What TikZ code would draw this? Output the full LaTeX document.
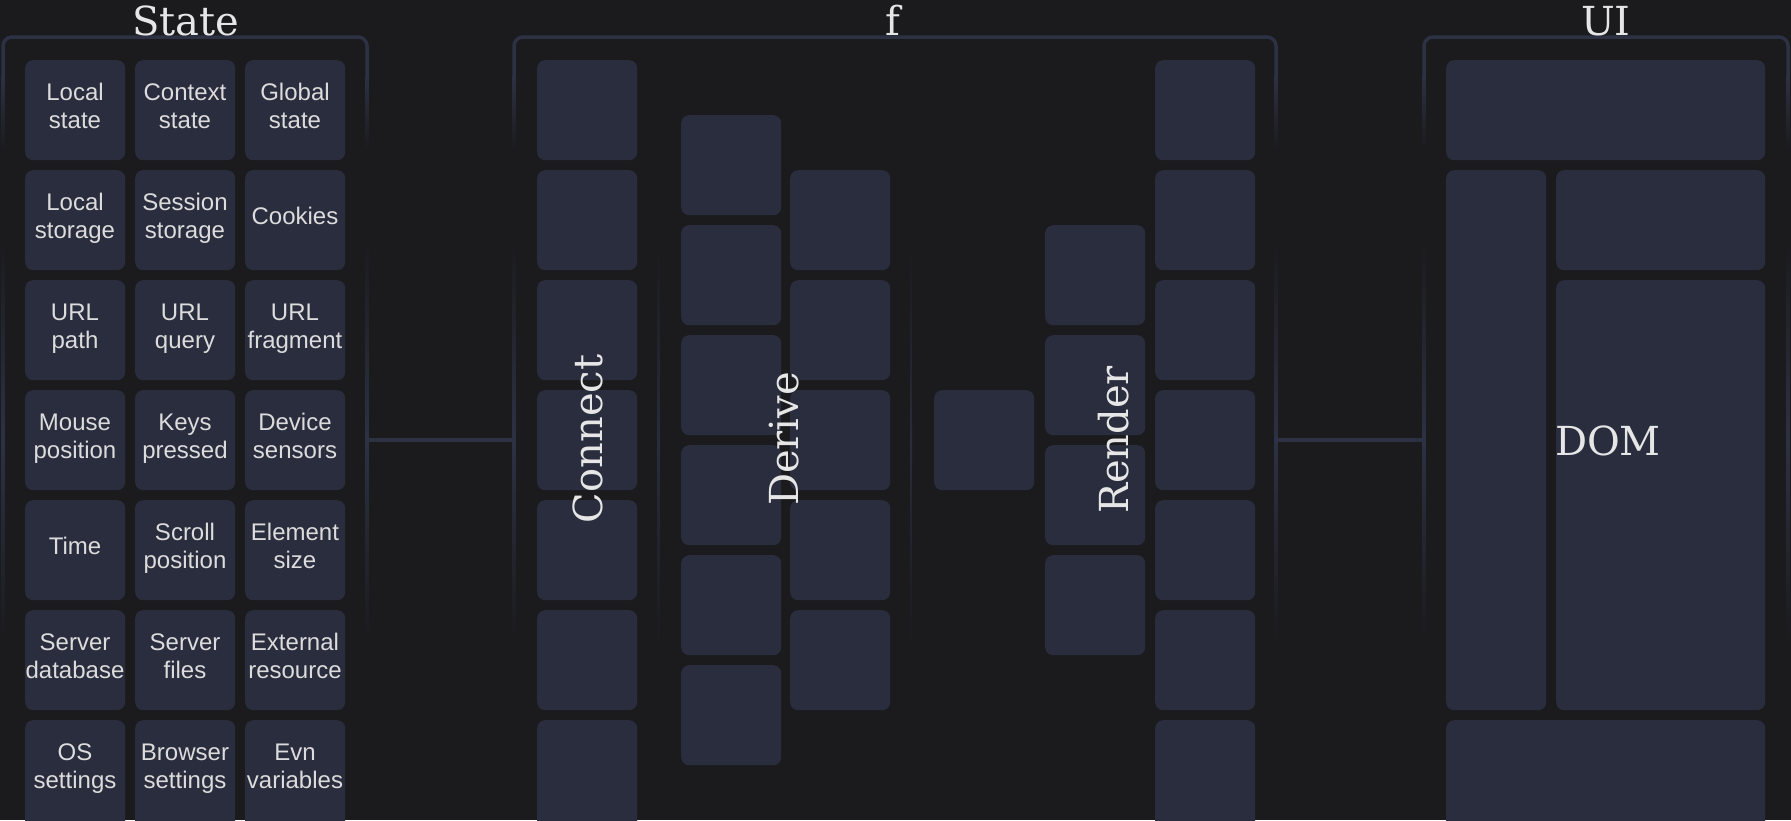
\documentclass[tikz,border=0pt]{standalone}
\usepackage{fontspec}
\setmainfont{Liberation Sans}
\newfontfamily\slabfnt{DejaVu Serif}
\definecolor{bg}{HTML}{1B1B1D}
\definecolor{tilec}{HTML}{2A2D3E}
\definecolor{bordc}{HTML}{2C3144}
\definecolor{sepc}{HTML}{282C3C}
\definecolor{txt}{HTML}{DCDCDC}
\definecolor{ttl}{HTML}{E6E6E6}
\newcommand\tilefnt{\fontsize{24pt}{28pt}\selectfont}
\newcommand\ttlfnt{\slabfnt\fontsize{40pt}{48pt}\selectfont}
\newcommand\tstrut{\rule[-10pt]{0pt}{28pt}}
% name, left, top, text
\newcommand\stile[4]{%
  \node[tile] (#1) at (#2,#3) {};
  \node[tiletext] (#1-t) at (#2+50,#3+50) {\tstrut#4\tstrut};}
% bottom row tile, cut by the page edge
\newcommand\btile[4]{%
  \node[tile, minimum height=130pt] (#1) at (#2,#3) {};
  \node[tiletext] (#1-t) at (#2+50,#3+50) {\tstrut#4\tstrut};}
\newcommand\grpframe[2]{%
  \draw[grpline] (#1,75) -- (#1,37) -- (#2,37) -- (#2,75);
  \foreach \xx in {#1,#2}{%
    \shade[top color=bordc,bottom color=bg] (\xx-1.75,75) rectangle (\xx+1.75,150);
    \shade[top color=bg,bottom color=bg,middle color=bordc] (\xx-1.75,240) rectangle (\xx+1.75,640);}}
\begin{document}
\begin{tikzpicture}[x=1pt,y=-1pt,
  tile/.style={fill=tilec, rounded corners=8pt, inner sep=0pt, minimum width=100pt, minimum height=100pt, anchor=north west},
  tiletext/.style={text=txt, font=\tilefnt, align=center, inner sep=0pt},
  grpline/.style={draw=bordc, line width=3.5pt, rounded corners=9pt},
  conn/.style={draw=bordc, line width=3.5pt},
  grpbox/.style={inner sep=0pt, draw=none, minimum height=806pt},
  ttlnode/.style={text=ttl, font=\ttlfnt, inner sep=0pt, anchor=base},
  vlabel/.style={text=ttl, font=\ttlfnt, inner sep=0pt, anchor=base, rotate=90}]
\useasboundingbox (0,0) rectangle (1791,820);
\clip (0,0) rectangle (1791,820);
\fill[bg] (0,0) rectangle (1791,820);

% group areas (for connectors)
\node[grpbox, minimum width=364pt] (state) at (185,440) {};
\node[grpbox, minimum width=762pt] (f) at (895,440) {};
\node[grpbox, minimum width=364pt] (ui) at (1606,440) {};

% group frames
\grpframe{3}{367}
\grpframe{514}{1276}
\grpframe{1424}{1788}

% separators inside f
\shade[top color=bg,bottom color=bg,middle color=sepc] (657.5,245) rectangle (659.5,645);
\shade[top color=bg,bottom color=bg,middle color=sepc] (910,245) rectangle (912,645);

% connectors
\draw[conn] (state.east) -- (f.west);
\draw[conn] (f.east) -- (ui.west);

% titles
\node[ttlnode] (tstate) at (186,35) {State};
\node[ttlnode] (tf) at (893,35) {f};
\node[ttlnode] (tui) at (1606,35) {UI};

% State tiles
\stile{s11}{25}{60}{Local\\state}
\stile{s12}{135}{60}{Context\\state}
\stile{s13}{245}{60}{Global\\state}
\stile{s21}{25}{170}{Local\\storage}
\stile{s22}{135}{170}{Session\\storage}
\stile{s23}{245}{170}{Cookies}
\stile{s31}{25}{280}{URL\\path}
\stile{s32}{135}{280}{URL\\query}
\stile{s33}{245}{280}{URL\\fragment}
\stile{s41}{25}{390}{Mouse\\position}
\stile{s42}{135}{390}{Keys\\pressed}
\stile{s43}{245}{390}{Device\\sensors}
\stile{s51}{25}{500}{Time}
\stile{s52}{135}{500}{Scroll\\position}
\stile{s53}{245}{500}{Element\\size}
\stile{s61}{25}{610}{Server\\database}
\stile{s62}{135}{610}{Server\\files}
\stile{s63}{245}{610}{External\\resource}
\btile{s71}{25}{720}{OS\\settings}
\btile{s72}{135}{720}{Browser\\settings}
\btile{s73}{245}{720}{Evn\\variables}

% f tiles: Connect column
\foreach \yy [count=\i] in {60,170,280,390,500,610}{\node[tile] (c\i) at (537,\yy) {};}
\node[tile, minimum height=130pt] (c7) at (537,720) {};
% Derive columns
\foreach \yy [count=\i] in {115,225,335,445,555,665}{\node[tile] (da\i) at (681,\yy) {};}
\foreach \yy [count=\i] in {170,280,390,500,610}{\node[tile] (db\i) at (790,\yy) {};}
% middle
\node[tile] (m1) at (934,390) {};
% Render columns
\foreach \yy [count=\i] in {225,335,445,555}{\node[tile] (ra\i) at (1045,\yy) {};}
\foreach \yy [count=\i] in {60,170,280,390,500,610}{\node[tile] (rb\i) at (1155,\yy) {};}
\node[tile, minimum height=130pt] (rb7) at (1155,720) {};

% f labels
\node[vlabel] (lconnect) at (602,439) {Connect};
\node[vlabel] (lderive) at (798,439) {Derive};
\node[vlabel] (lrender) at (1128,440) {Render};

% UI tiles
\node[tile, minimum width=319pt] (u1) at (1446,60) {};
\node[tile, minimum height=540pt] (u2) at (1446,170) {};
\node[tile, minimum width=209pt] (u3) at (1556,170) {};
\node[tile, minimum width=209pt, minimum height=430pt] (u4) at (1556,280) {};
\node[tile, minimum width=319pt, minimum height=130pt] (u5) at (1446,720) {};
\node[ttlnode] (ldom) at (1608,455) {DOM};
\end{tikzpicture}
\end{document}
